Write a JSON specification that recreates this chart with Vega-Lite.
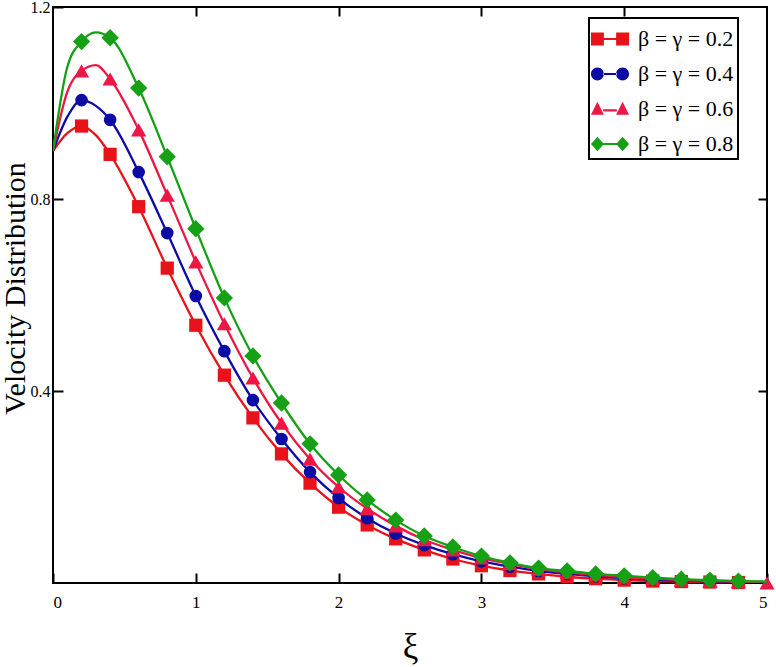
{
  "$schema": "https://vega.github.io/schema/vega-lite/v6.json",
  "width": 714,
  "height": 576,
  "autosize": {"type": "none"},
  "padding": {"left": 53, "top": 7, "right": 9, "bottom": 84},
  "background": "white",
  "config": {
    "view": {"stroke": "black", "strokeWidth": 2},
    "font": "Liberation Serif",
    "legend": {"strokeWidth": 2, "strokeColor": "black"},
    "axis": {"grid": false, "domain": false, "labelFont": "Liberation Serif", "titleFont": "Liberation Serif", "labelFontSize": 16, "labelColor": "black", "titleColor": "black", "tickColor": "black", "tickWidth": 2, "tickSize": 10, "titleFontWeight": "normal"}
  },
  "data": {
    "values": [
      {"s": "β = γ = 0.2", "x": 0, "v": 0.9, "m": 0},
      {"s": "β = γ = 0.2", "x": 0.1, "v": 0.937, "m": 0},
      {"s": "β = γ = 0.2", "x": 0.2, "v": 0.952, "m": 1},
      {"s": "β = γ = 0.2", "x": 0.3, "v": 0.933, "m": 0},
      {"s": "β = γ = 0.2", "x": 0.4, "v": 0.893, "m": 1},
      {"s": "β = γ = 0.2", "x": 0.6, "v": 0.784, "m": 1},
      {"s": "β = γ = 0.2", "x": 0.8, "v": 0.656, "m": 1},
      {"s": "β = γ = 0.2", "x": 1.0, "v": 0.537, "m": 1},
      {"s": "β = γ = 0.2", "x": 1.2, "v": 0.433, "m": 1},
      {"s": "β = γ = 0.2", "x": 1.4, "v": 0.344, "m": 1},
      {"s": "β = γ = 0.2", "x": 1.6, "v": 0.269, "m": 1},
      {"s": "β = γ = 0.2", "x": 1.8, "v": 0.208, "m": 1},
      {"s": "β = γ = 0.2", "x": 2.0, "v": 0.158, "m": 1},
      {"s": "β = γ = 0.2", "x": 2.2, "v": 0.121, "m": 1},
      {"s": "β = γ = 0.2", "x": 2.4, "v": 0.092, "m": 1},
      {"s": "β = γ = 0.2", "x": 2.6, "v": 0.069, "m": 1},
      {"s": "β = γ = 0.2", "x": 2.8, "v": 0.05, "m": 1},
      {"s": "β = γ = 0.2", "x": 3.0, "v": 0.036, "m": 1},
      {"s": "β = γ = 0.2", "x": 3.2, "v": 0.026, "m": 1},
      {"s": "β = γ = 0.2", "x": 3.4, "v": 0.019, "m": 1},
      {"s": "β = γ = 0.2", "x": 3.6, "v": 0.013, "m": 1},
      {"s": "β = γ = 0.2", "x": 3.8, "v": 0.009, "m": 1},
      {"s": "β = γ = 0.2", "x": 4.0, "v": 0.006, "m": 1},
      {"s": "β = γ = 0.2", "x": 4.2, "v": 0.004, "m": 1},
      {"s": "β = γ = 0.2", "x": 4.4, "v": 0.003, "m": 1},
      {"s": "β = γ = 0.2", "x": 4.6, "v": 0.002, "m": 1},
      {"s": "β = γ = 0.2", "x": 4.8, "v": 0.001, "m": 1},
      {"s": "β = γ = 0.2", "x": 5.0, "v": 0.001, "m": 0},
      {"s": "β = γ = 0.4", "x": 0, "v": 0.9, "m": 0},
      {"s": "β = γ = 0.4", "x": 0.1, "v": 0.971, "m": 0},
      {"s": "β = γ = 0.4", "x": 0.2, "v": 1.006, "m": 1},
      {"s": "β = γ = 0.4", "x": 0.3, "v": 0.994, "m": 0},
      {"s": "β = γ = 0.4", "x": 0.4, "v": 0.965, "m": 1},
      {"s": "β = γ = 0.4", "x": 0.6, "v": 0.856, "m": 1},
      {"s": "β = γ = 0.4", "x": 0.8, "v": 0.729, "m": 1},
      {"s": "β = γ = 0.4", "x": 1.0, "v": 0.598, "m": 1},
      {"s": "β = γ = 0.4", "x": 1.2, "v": 0.483, "m": 1},
      {"s": "β = γ = 0.4", "x": 1.4, "v": 0.381, "m": 1},
      {"s": "β = γ = 0.4", "x": 1.6, "v": 0.3, "m": 1},
      {"s": "β = γ = 0.4", "x": 1.8, "v": 0.231, "m": 1},
      {"s": "β = γ = 0.4", "x": 2.0, "v": 0.177, "m": 1},
      {"s": "β = γ = 0.4", "x": 2.2, "v": 0.135, "m": 1},
      {"s": "β = γ = 0.4", "x": 2.4, "v": 0.103, "m": 1},
      {"s": "β = γ = 0.4", "x": 2.6, "v": 0.079, "m": 1},
      {"s": "β = γ = 0.4", "x": 2.8, "v": 0.06, "m": 1},
      {"s": "β = γ = 0.4", "x": 3.0, "v": 0.045, "m": 1},
      {"s": "β = γ = 0.4", "x": 3.2, "v": 0.034, "m": 1},
      {"s": "β = γ = 0.4", "x": 3.4, "v": 0.025, "m": 1},
      {"s": "β = γ = 0.4", "x": 3.6, "v": 0.019, "m": 1},
      {"s": "β = γ = 0.4", "x": 3.8, "v": 0.014, "m": 1},
      {"s": "β = γ = 0.4", "x": 4.0, "v": 0.01, "m": 1},
      {"s": "β = γ = 0.4", "x": 4.2, "v": 0.007, "m": 1},
      {"s": "β = γ = 0.4", "x": 4.4, "v": 0.005, "m": 1},
      {"s": "β = γ = 0.4", "x": 4.6, "v": 0.003, "m": 1},
      {"s": "β = γ = 0.4", "x": 4.8, "v": 0.002, "m": 1},
      {"s": "β = γ = 0.4", "x": 5.0, "v": 0.001, "m": 0},
      {"s": "β = γ = 0.6", "x": 0, "v": 0.9, "m": 0},
      {"s": "β = γ = 0.6", "x": 0.1, "v": 1.023, "m": 0},
      {"s": "β = γ = 0.6", "x": 0.2, "v": 1.067, "m": 1},
      {"s": "β = γ = 0.6", "x": 0.3, "v": 1.079, "m": 0},
      {"s": "β = γ = 0.6", "x": 0.4, "v": 1.05, "m": 1},
      {"s": "β = γ = 0.6", "x": 0.6, "v": 0.944, "m": 1},
      {"s": "β = γ = 0.6", "x": 0.8, "v": 0.808, "m": 1},
      {"s": "β = γ = 0.6", "x": 1.0, "v": 0.669, "m": 1},
      {"s": "β = γ = 0.6", "x": 1.2, "v": 0.54, "m": 1},
      {"s": "β = γ = 0.6", "x": 1.4, "v": 0.427, "m": 1},
      {"s": "β = γ = 0.6", "x": 1.6, "v": 0.333, "m": 1},
      {"s": "β = γ = 0.6", "x": 1.8, "v": 0.258, "m": 1},
      {"s": "β = γ = 0.6", "x": 2.0, "v": 0.2, "m": 1},
      {"s": "β = γ = 0.6", "x": 2.2, "v": 0.155, "m": 1},
      {"s": "β = γ = 0.6", "x": 2.4, "v": 0.119, "m": 1},
      {"s": "β = γ = 0.6", "x": 2.6, "v": 0.09, "m": 1},
      {"s": "β = γ = 0.6", "x": 2.8, "v": 0.069, "m": 1},
      {"s": "β = γ = 0.6", "x": 3.0, "v": 0.052, "m": 1},
      {"s": "β = γ = 0.6", "x": 3.2, "v": 0.04, "m": 1},
      {"s": "β = γ = 0.6", "x": 3.4, "v": 0.029, "m": 1},
      {"s": "β = γ = 0.6", "x": 3.6, "v": 0.022, "m": 1},
      {"s": "β = γ = 0.6", "x": 3.8, "v": 0.017, "m": 1},
      {"s": "β = γ = 0.6", "x": 4.0, "v": 0.012, "m": 1},
      {"s": "β = γ = 0.6", "x": 4.2, "v": 0.009, "m": 1},
      {"s": "β = γ = 0.6", "x": 4.4, "v": 0.006, "m": 1},
      {"s": "β = γ = 0.6", "x": 4.6, "v": 0.004, "m": 1},
      {"s": "β = γ = 0.6", "x": 4.8, "v": 0.003, "m": 1},
      {"s": "β = γ = 0.6", "x": 5.0, "v": 0.0, "m": 1},
      {"s": "β = γ = 0.8", "x": 0, "v": 0.9, "m": 0},
      {"s": "β = γ = 0.8", "x": 0.1, "v": 1.075, "m": 0},
      {"s": "β = γ = 0.8", "x": 0.2, "v": 1.128, "m": 1},
      {"s": "β = γ = 0.8", "x": 0.3, "v": 1.147, "m": 0},
      {"s": "β = γ = 0.8", "x": 0.4, "v": 1.136, "m": 1},
      {"s": "β = γ = 0.8", "x": 0.6, "v": 1.031, "m": 1},
      {"s": "β = γ = 0.8", "x": 0.8, "v": 0.888, "m": 1},
      {"s": "β = γ = 0.8", "x": 1.0, "v": 0.738, "m": 1},
      {"s": "β = γ = 0.8", "x": 1.2, "v": 0.594, "m": 1},
      {"s": "β = γ = 0.8", "x": 1.4, "v": 0.473, "m": 1},
      {"s": "β = γ = 0.8", "x": 1.6, "v": 0.375, "m": 1},
      {"s": "β = γ = 0.8", "x": 1.8, "v": 0.29, "m": 1},
      {"s": "β = γ = 0.8", "x": 2.0, "v": 0.225, "m": 1},
      {"s": "β = γ = 0.8", "x": 2.2, "v": 0.173, "m": 1},
      {"s": "β = γ = 0.8", "x": 2.4, "v": 0.131, "m": 1},
      {"s": "β = γ = 0.8", "x": 2.6, "v": 0.098, "m": 1},
      {"s": "β = γ = 0.8", "x": 2.8, "v": 0.075, "m": 1},
      {"s": "β = γ = 0.8", "x": 3.0, "v": 0.056, "m": 1},
      {"s": "β = γ = 0.8", "x": 3.2, "v": 0.042, "m": 1},
      {"s": "β = γ = 0.8", "x": 3.4, "v": 0.031, "m": 1},
      {"s": "β = γ = 0.8", "x": 3.6, "v": 0.025, "m": 1},
      {"s": "β = γ = 0.8", "x": 3.8, "v": 0.019, "m": 1},
      {"s": "β = γ = 0.8", "x": 4.0, "v": 0.015, "m": 1},
      {"s": "β = γ = 0.8", "x": 4.2, "v": 0.011, "m": 1},
      {"s": "β = γ = 0.8", "x": 4.4, "v": 0.008, "m": 1},
      {"s": "β = γ = 0.8", "x": 4.6, "v": 0.006, "m": 1},
      {"s": "β = γ = 0.8", "x": 4.8, "v": 0.004, "m": 1},
      {"s": "β = γ = 0.8", "x": 5.0, "v": 0.003, "m": 0}
    ]
  },
  "encoding": {
    "x": {"field": "x", "type": "quantitative", "scale": {"domain": [0, 5], "nice": false}, "axis": null},
    "y": {"field": "v", "type": "quantitative", "scale": {"domain": [0, 1.2], "nice": false}, "axis": null},
    "color": {"field": "s", "type": "nominal",
      "scale": {"domain": ["β = γ = 0.2", "β = γ = 0.4", "β = γ = 0.6", "β = γ = 0.8"], "range": ["#e8121a", "#0c0ca4", "#ee1644", "#16a016"]},
      "legend": {
        "orient": "none", "legendX": 536, "legendY": 11, "title": null,
        "strokeColor": "black", "fillColor": "white", "padding": 4,
        "labelFont": "Liberation Serif", "labelFontSize": 22, "labelColor": "black", "labelOffset": 11,
        "symbolSize": 1156, "rowPadding": 7, "symbolStrokeWidth": 0, "symbolOpacity": 1
      }}
  },
  "layer": [
    {
      "transform": [{"filter": "datum.s == 'β = γ = 0.2'"}],
      "mark": {"type": "line", "interpolate": "monotone", "strokeWidth": 2.3, "clip": true},
      "encoding": {
        "x": {"field": "x", "type": "quantitative", "scale": {"domain": [0, 5], "nice": false},
          "axis": {"orient": "bottom", "offset": -10, "values": [0, 1, 2, 3, 4, 5], "labelFontSize": 17, "labelPadding": 11, "title": "ξ", "titleFontSize": 35, "titlePadding": 19}},
        "y": {"field": "v", "type": "quantitative", "scale": {"domain": [0, 1.2], "nice": false},
          "axis": {"orient": "left", "offset": -10, "values": [0.4, 0.8, 1.2], "labelFontSize": 16, "labelPadding": 3, "title": "Velocity Distribution", "titleFontSize": 30, "titlePadding": 0, "titleY": 281}}
      }
    },
    {
      "transform": [{"filter": "datum.s == 'β = γ = 0.2' && datum.m == 1"}],
      "mark": {"type": "point", "shape": "square", "size": 175, "filled": true, "opacity": 1, "strokeWidth": 0},
      "encoding": {
        "x": {"field": "x", "type": "quantitative", "scale": {"domain": [0, 5], "nice": false},
          "axis": {"orient": "top", "offset": -9, "tickSize": 9, "values": [1, 2, 3, 4], "labels": false, "title": null}},
        "y": {"field": "v", "type": "quantitative", "scale": {"domain": [0, 1.2], "nice": false},
          "axis": {"orient": "right", "offset": -9, "tickSize": 9, "values": [0.4, 0.8], "labels": false, "title": null}}
      }
    },
    {
      "transform": [{"filter": "datum.s == 'β = γ = 0.4'"}],
      "mark": {"type": "line", "interpolate": "monotone", "strokeWidth": 2.3, "clip": true}
    },
    {
      "transform": [{"filter": "datum.s == 'β = γ = 0.4' && datum.m == 1"}],
      "mark": {"type": "point", "shape": "circle", "size": 160, "filled": true, "opacity": 1, "strokeWidth": 0}
    },
    {
      "transform": [{"filter": "datum.s == 'β = γ = 0.6'"}],
      "mark": {"type": "line", "interpolate": "monotone", "strokeWidth": 2.3, "clip": true}
    },
    {
      "transform": [{"filter": "datum.s == 'β = γ = 0.6' && datum.m == 1"}],
      "mark": {"type": "point", "shape": "triangle-up", "size": 230, "filled": true, "opacity": 1, "strokeWidth": 0}
    },
    {
      "transform": [{"filter": "datum.s == 'β = γ = 0.8'"}],
      "mark": {"type": "line", "interpolate": "monotone", "strokeWidth": 2.3, "clip": true}
    },
    {
      "transform": [{"filter": "datum.s == 'β = γ = 0.8' && datum.m == 1"}],
      "mark": {"type": "point", "shape": "diamond", "size": 300, "filled": true, "opacity": 1, "strokeWidth": 0}
    },
    {
      "transform": [{"filter": "datum.x == 0"}],
      "mark": {"type": "point", "filled": true, "opacity": 0, "strokeWidth": 0},
      "encoding": {
        "shape": {"field": "s", "type": "nominal",
          "scale": {"domain": ["β = γ = 0.2", "β = γ = 0.4", "β = γ = 0.6", "β = γ = 0.8"],
            "range": [
              "M-1.12,-0.38H-0.36V0.38H-1.12Z M0.36,-0.38H1.12V0.38H0.36Z M-0.4,-0.06H0.4V0.06H-0.4Z",
              "M-1.12,0A0.38,0.38 0 1,0 -0.36,0A0.38,0.38 0 1,0 -1.12,0Z M0.36,0A0.38,0.38 0 1,0 1.12,0A0.38,0.38 0 1,0 0.36,0Z M-0.4,-0.06H0.4V0.06H-0.4Z",
              "M-1.12,0.34L-0.74,-0.42L-0.36,0.34Z M0.36,0.34L0.74,-0.42L1.12,0.34Z M-0.4,0.02H0.4V0.14H-0.4Z",
              "M-1.12,0L-0.74,-0.42L-0.36,0L-0.74,0.42Z M0.36,0L0.74,-0.42L1.12,0L0.74,0.42Z M-0.4,-0.06H0.4V0.06H-0.4Z"
            ]},
          "legend": {
            "orient": "none", "legendX": 536, "legendY": 11, "title": null,
            "strokeColor": "black", "fillColor": "white", "padding": 4,
            "labelFont": "Liberation Serif", "labelFontSize": 22, "labelColor": "black", "labelOffset": 11,
            "symbolSize": 1156, "rowPadding": 7, "symbolStrokeWidth": 0, "symbolOpacity": 1
          }}
      }
    }
  ],
  "resolve": {"axis": {"x": "independent", "y": "independent"}}
}
